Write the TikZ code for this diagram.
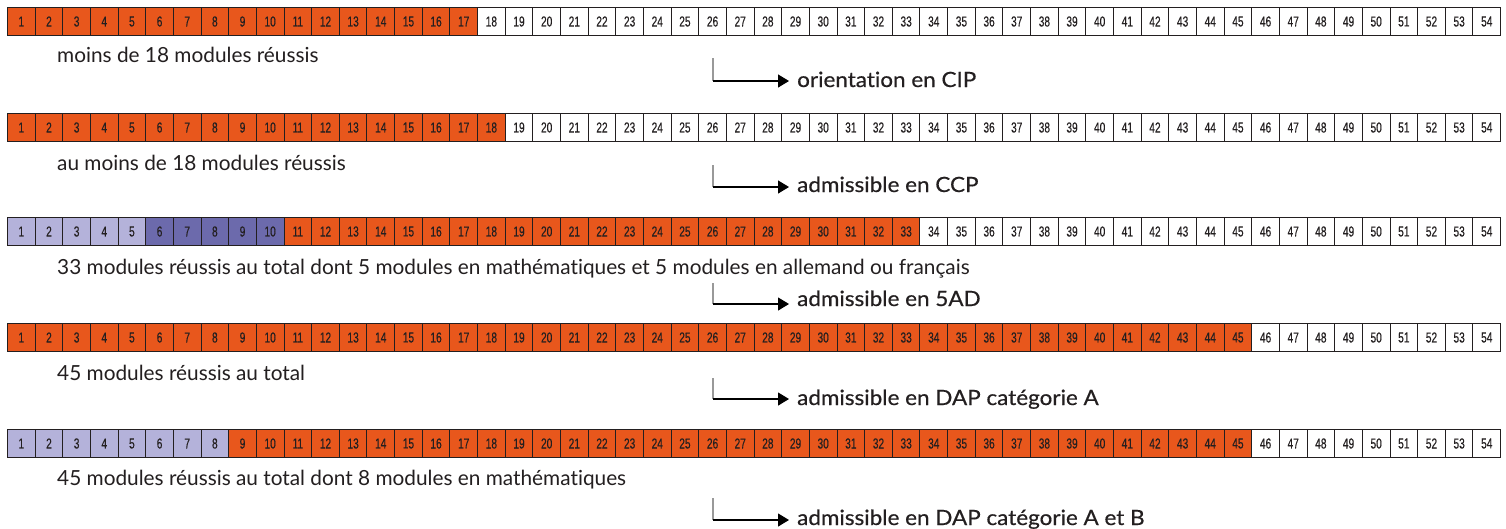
\documentclass[tikz,border=0pt]{standalone}
\usepackage{fontspec}
\setmainfont[RawFeature=-liga]{Lato}
\newfontfamily\numfont[FakeStretch=0.7,FakeBold=0.3]{Liberation Sans}
\newfontfamily\resfont[FakeBold=0.5,FakeStretch=1.07,RawFeature=-liga]{Lato}
\usetikzlibrary{arrows.meta}
\definecolor{orng}{RGB}{232,87,28}
\definecolor{lpur}{RGB}{180,178,218}
\definecolor{dpur}{RGB}{108,106,172}
\definecolor{txt}{RGB}{35,31,32}
\tikzset{
  cell/.style={draw=txt, line width=1pt, minimum width=27.65pt, minimum height=28pt,
    inner sep=0pt, font=\numfont\fontsize{14.5}{14.5}\selectfont, text=txt, anchor=north west},
  lbl/.style={anchor=base west, inner sep=0pt, text=txt, font=\fontsize{20.8}{21}\selectfont},
  res/.style={anchor=base west, inner sep=0pt, text=txt, font=\resfont\fontsize{21}{22}\selectfont},
  vline/.style={draw=gray!80, line width=1.3pt},
  hline/.style={draw=black, line width=1.2pt, -{Triangle[length=11pt,width=13pt]}, shorten >=8pt}
}
\begin{document}
\begin{tikzpicture}[x=1pt,y=-1pt]
\useasboundingbox[fill=white] (0,0) rectangle (1506,528);
% rows: row / top / light purple up to / dark purple up to / orange up to
\foreach \r/\top/\L/\D/\O in {1/7/0/0/17, 2/113/0/0/18, 3/217/5/10/33, 4/323/0/0/45, 5/429/8/8/45}{
  \foreach \i in {1,...,54}{
    \def\cc{white}%
    \ifnum\i>\O\relax\else\def\cc{orng}\fi
    \ifnum\i>\D\relax\else\def\cc{dpur}\fi
    \ifnum\i>\L\relax\else\def\cc{lpur}\fi
    \pgfmathsetmacro{\xx}{7+(\i-1)*27.65}
    \node[cell, fill=\cc] (c\r-\i) at (\xx,\top) {\i};
  }
}
% labels
\node[lbl] (l1) at (57,62) {moins de 18 modules réussis};
\node[lbl] (l2) at (57,170) {au moins de 18 modules réussis};
\node[lbl] (l3) at (57,274) {33 modules réussis au total dont 5 modules en mathématiques et 5 modules en allemand ou français};
\node[lbl] (l4) at (57,380) {45 modules réussis au total};
\node[lbl] (l5) at (57,485) {45 modules réussis au total dont 8 modules en mathématiques};
% results
\node[res] (r1) at (797,87) {orientation en CIP};
\node[res] (r2) at (797,192) {admissible en CCP};
\node[res] (r3) at (797,306) {admissible en 5AD};
\node[res] (r4) at (797,405) {admissible en DAP catégorie A};
\node[res] (r5) at (797,525) {admissible en DAP catégorie A et B};
% arrows
\foreach \k/\ya/\yb in {1/58/81, 2/165/187, 3/283/304, 4/378/399, 5/498/520}{
  \coordinate (s\k) at (713,\ya);
  \coordinate (k\k) at (713,\yb);
  \draw[vline] (s\k) -- (k\k);
  \draw[hline] (k\k) -- (k\k -| r\k.west);
}
\end{tikzpicture}
\end{document}
